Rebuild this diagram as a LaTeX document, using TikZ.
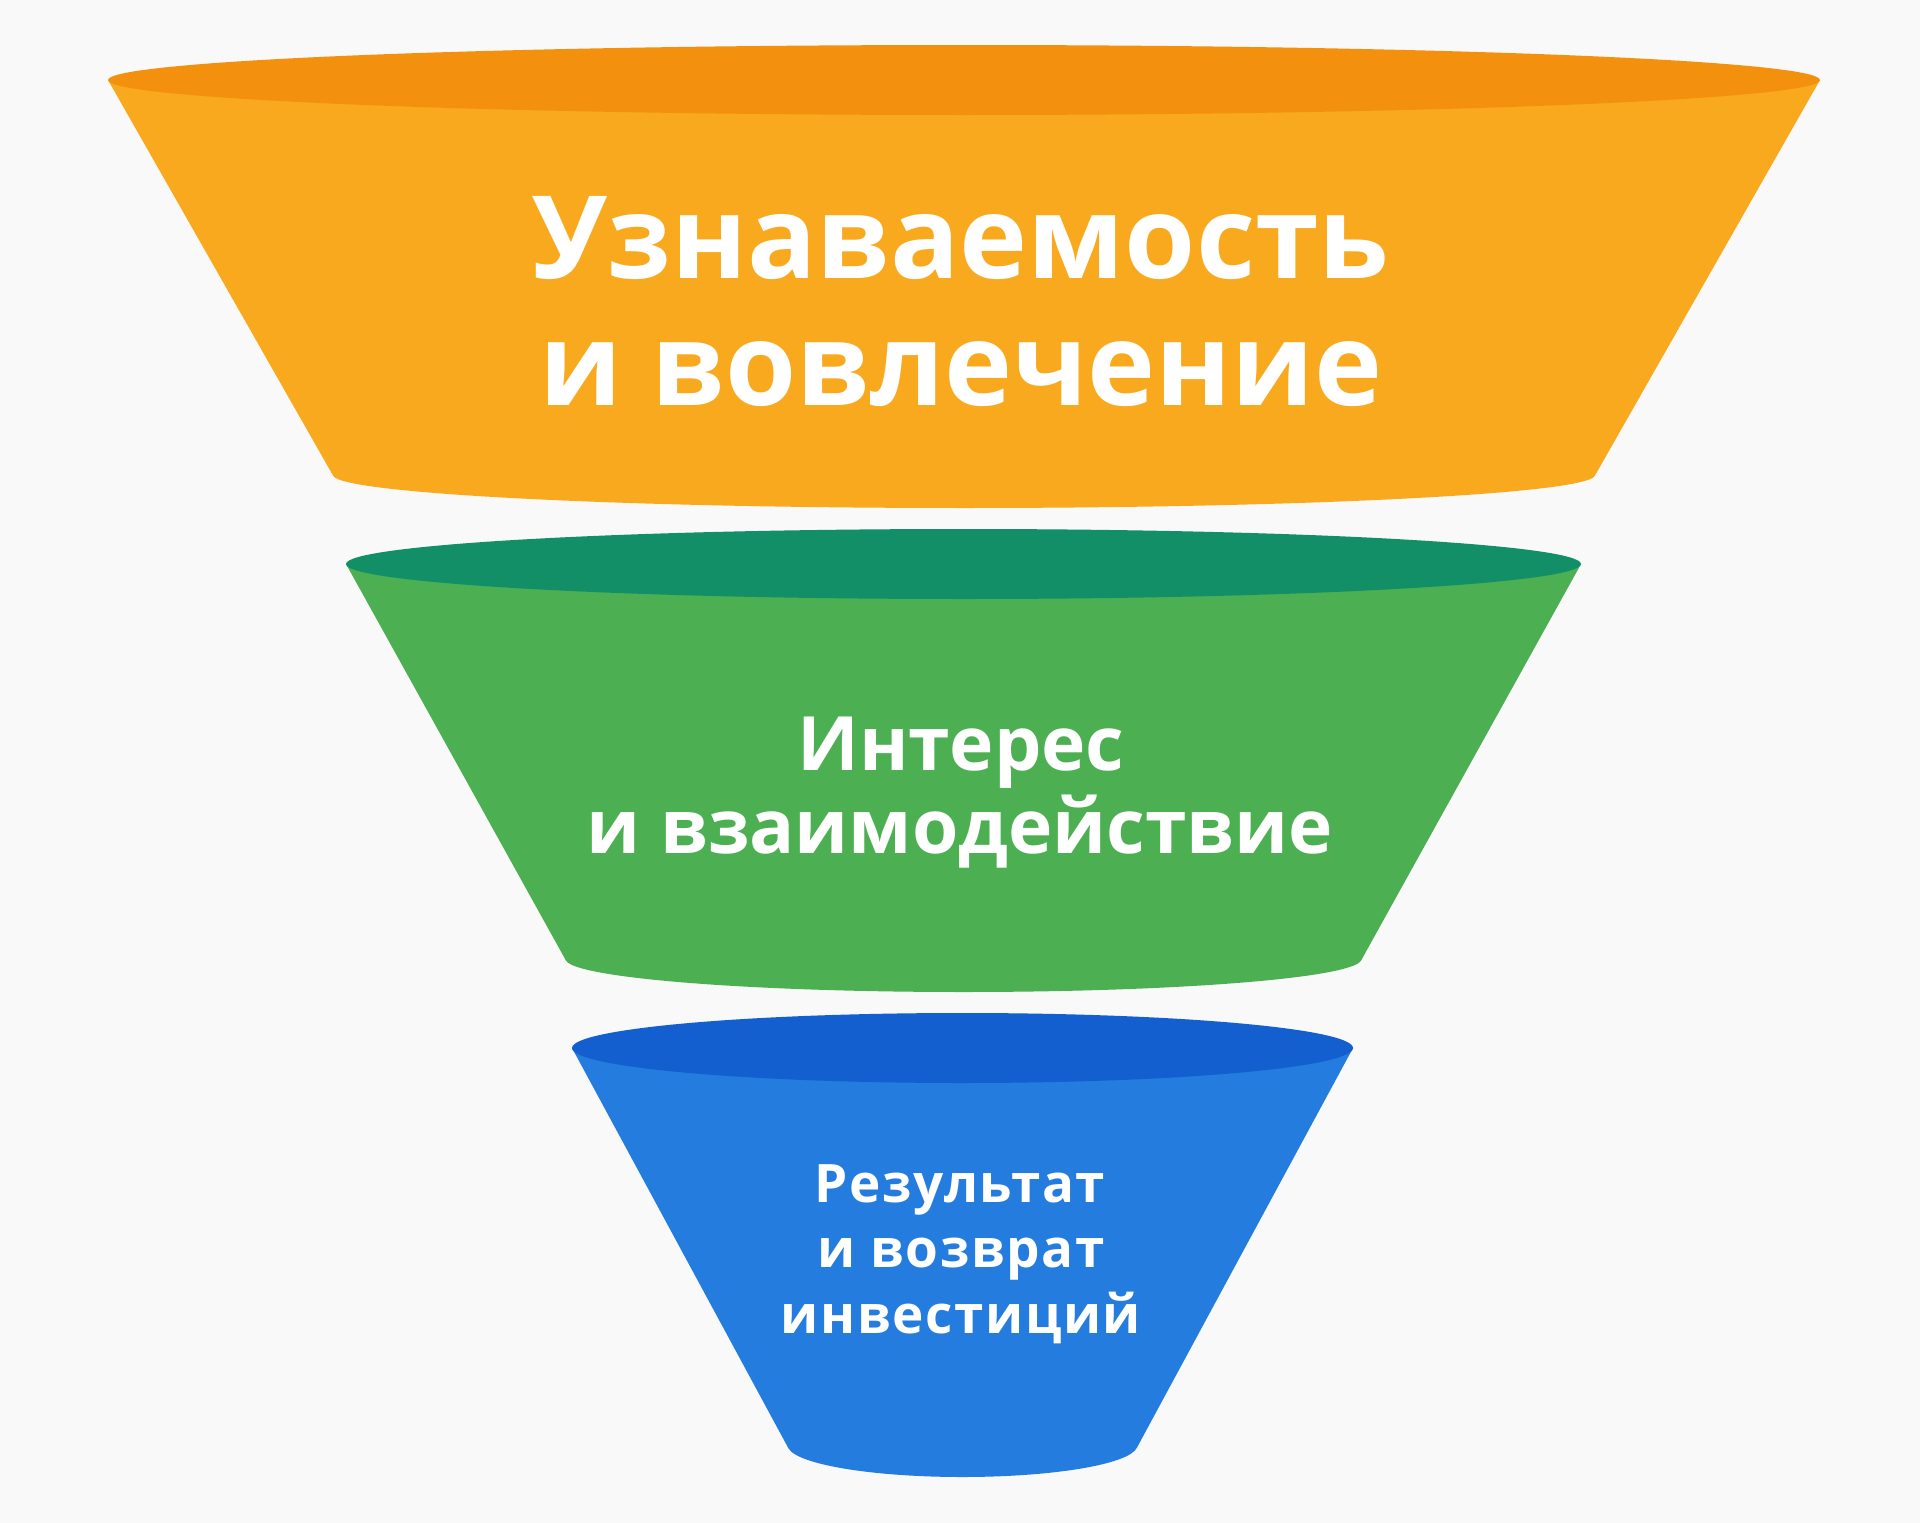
\documentclass[tikz,border=0pt]{standalone}
\usepackage{fontspec}
\usetikzlibrary{calc}
\setmainfont{Open Sans}
\newfontfamily\spacedfont{Open Sans}[LetterSpace=3]
\definecolor{bgc}{HTML}{F9F9F9}
\definecolor{orbody}{HTML}{F9A91E}
\definecolor{ortop}{HTML}{F3910F}
\definecolor{grbody}{HTML}{4CAF51}
\definecolor{grtop}{HTML}{138F67}
\definecolor{blbody}{HTML}{247CDE}
\definecolor{bltop}{HTML}{135FD0}
\tikzset{
  lbl/.style={text=white, anchor=base, inner sep=0pt, font=\bfseries},
  big/.style={lbl, font=\bfseries\fontsize{115}{126}\selectfont},
  mid/.style={lbl, font=\bfseries\fontsize{75}{83}\selectfont},
  small/.style={lbl, font=\spacedfont\bfseries\fontsize{53}{65}\selectfont},
}
% #1 body colour, #2 top colour, #3 centre x, #4 top y, #5 top x-radius,
% #6 bottom y, #7 bottom x-radius, #8 bottom y-radius
\newcommand\funnelseg[8]{%
  \pgfmathsetmacro\fsdx{#5-#7}%
  \pgfmathsetmacro\fsdy{#6-#4}%
  \pgfmathsetmacro\fsang{atan((#8/#7)*(\fsdx/\fsdy))}%
  \pgfmathsetmacro\fsstart{180-\fsang}%
  \fill[#1] (#3-#5,#4) -- ($(#3,#6)+(\fsstart:#7 and #8)$)
    arc[start angle=\fsstart, end angle=\fsang, x radius=#7, y radius=#8]
    -- (#3+#5,#4) -- cycle;
  \fill[#2] (#3,#4) ellipse[x radius=#5, y radius=35];
}
\begin{document}
\begin{tikzpicture}[x=1pt,y=-1pt]
\useasboundingbox (0,0) rectangle (1920,1523);
\fill[bgc] (0,0) rectangle (1920,1523);
\funnelseg{orbody}{ortop}{964}{80}{856}{475}{631}{33}
\funnelseg{grbody}{grtop}{963.5}{564}{617.5}{959}{398}{33}
\funnelseg{blbody}{bltop}{962.5}{1048}{390.5}{1445}{175}{32}
% labels
\node[big] (t1) at (961,278) {Узнаваемость};
\node[big] (t2) at (961,405) {и вовлечение};
\node[mid] (g1) at (961,770) {Интерес};
\node[mid] (g2) at (960,853) {и взаимодействие};
\node[small] (b1) at (960,1202) {Результат};
\node[small] (b2) at (961,1267) {и возврат};
\node[small] (b3) at (961,1333) {инвестиций};
\end{tikzpicture}
\end{document}
